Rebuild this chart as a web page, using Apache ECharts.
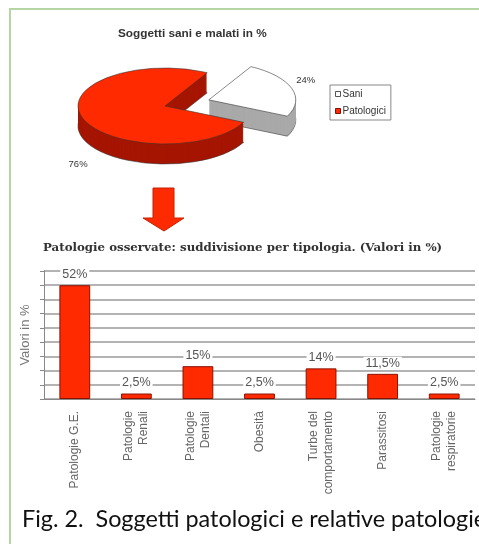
<!DOCTYPE html>
<html>
<head>
<meta charset="utf-8">
<script src="https://cdn.jsdelivr.net/npm/echarts@6/dist/echarts.min.js"></script>
<style>
  html, body { margin: 0; padding: 0; background: #fff; }
  #chart { width: 479px; height: 544px; }
</style>
</head>
<body>
<div id="chart"></div>
<script>
// dati torta
var pieNames = ['Sani', 'Patologici'];
var pieValues = [24, 76];
// dati barre
var categories = ['Patologie G.E.', 'Patologie\nRenali', 'Patologie\nDentali', 'Obesità',
  'Turbe del\ncomportamento', 'Parassitosi', 'Patologie\nrespiratorie'];
var barValues = [52, 2.5, 15, 2.5, 14, 11.5, 2.5];

// stile torta 3d
var pieTop = ['#ffffff', '#ff2a00'];
var pieSide = ['#a9a9a9', '#a51500'];
var pieExplode = [46, 0];
var pieLabelShift = [[0, -6], [10, 45]];
var pieC = [165, 106], pieRx = 87, pieRy = 38, pieDepth = 20, pieStart = -61;

function sliceRenderer(idx) {
  return function (params, api) {
    var total = pieValues.reduce(function (a, b) { return a + b; }, 0);
    var start = pieStart * Math.PI / 180;
    for (var i = 0; i < idx; i++) start += pieValues[i] / total * Math.PI * 2;
    var span = pieValues[idx] / total * Math.PI * 2;
    var mid = start + span / 2;
    var k = pieRy / pieRx;
    var cx = pieC[0] + pieExplode[idx] * Math.cos(mid);
    var cy = pieC[1] + pieExplode[idx] * Math.sin(mid) * k;
    var faces = [];
    // lato (copie sovrapposte per lo spessore)
    for (var d = pieDepth; d > 0; d--) {
      faces.push({
        type: 'sector',
        shape: { cx: 0, cy: d / k, r: pieRx, startAngle: start, endAngle: start + span, clockwise: true },
        style: { fill: pieSide[idx], stroke: d === pieDepth ? '#333' : null, lineWidth: 0.8, strokeNoScale: true }
      });
    }
    faces.push({
      type: 'sector',
      shape: { cx: 0, cy: 0, r: pieRx, startAngle: start, endAngle: start + span, clockwise: true },
      style: { fill: pieTop[idx], stroke: '#333', lineWidth: 0.8, strokeNoScale: true }
    });
    var lx = cx + pieRx * 1.17 * Math.cos(mid) + pieLabelShift[idx][0];
    var ly = cy + pieRy * 1.17 * Math.sin(mid) + pieLabelShift[idx][1];
    return {
      type: 'group',
      children: [
        { type: 'group', x: cx, y: cy, scaleY: k, children: faces },
        {
          type: 'text', x: lx, y: ly,
          style: {
            text: pieValues[idx] + '%', fill: '#333', fontSize: 9.5,
            fontFamily: 'Liberation Sans', align: 'center', verticalAlign: 'middle'
          }
        }
      ]
    };
  };
}

var chart = echarts.init(document.getElementById('chart'));

var series = pieNames.map(function (n, i) {
  return {
    type: 'custom',
    name: n,
    coordinateSystem: 'none',
    renderItem: sliceRenderer(i),
    data: [pieValues[i]],
    itemStyle: { color: pieTop[i] },
    silent: true
  };
});

series.push({
  type: 'bar',
  name: 'Patologie',
  data: barValues,
  barWidth: '50%',
  itemStyle: { color: '#ff2a00', borderColor: '#8a1000', borderWidth: 1 },
  label: {
    show: true,
    position: 'top',
    distance: 4,
    formatter: function (p) { return String(p.value).replace('.', ',') + '%'; },
    color: '#555',
    fontSize: 12.5,
    fontFamily: 'Liberation Sans',
    backgroundColor: '#fff',
    padding: [0, 2]
  }
});

chart.setOption({
  animation: false,
  backgroundColor: '#ffffff',
  title: [
    {
      text: 'Soggetti sani e malati in %',
      left: 118, top: 28, padding: 0,
      textStyle: { fontSize: 11.8, fontWeight: 'bold', color: '#333', fontFamily: 'Liberation Sans' }
    },
    {
      text: 'Patologie osservate: suddivisione per tipologia. (Valori in %)',
      left: 43, top: 242, padding: 0,
      textStyle: { fontSize: 11.8, fontWeight: 'bold', color: '#333', fontFamily: 'DejaVu Serif' }
    },
    {
      text: 'Fig. 2.  Soggetti patologici e relative patologie',
      left: 22, top: 508, padding: 0,
      textStyle: { fontSize: 23.4, fontWeight: 'normal', color: '#111', fontFamily: 'Lato' }
    }
  ],
  legend: {
    data: [
      { name: 'Sani', itemStyle: { color: '#fff', borderColor: '#555', borderWidth: 1 } },
      { name: 'Patologici', itemStyle: { color: '#ff2a00', borderColor: '#8a1000', borderWidth: 1 } }
    ],
    orient: 'vertical',
    left: 330, top: 85,
    padding: [4, 5],
    itemGap: 7,
    itemWidth: 5, itemHeight: 5,
    icon: 'rect',
    borderColor: '#888', borderWidth: 1,
    selectedMode: false,
    textStyle: { fontSize: 10, color: '#333', fontFamily: 'Liberation Sans', padding: [0, 0, 0, -3] }
  },
  graphic: [
    {
      type: 'polyline', silent: true,
      shape: { points: [[10, 544], [10, 9], [479, 9]] },
      style: { stroke: '#b5d5a3', lineWidth: 2, fill: null }
    },
    {
      type: 'polygon', silent: true,
      shape: { points: [[153, 188], [174, 188], [174, 218], [184, 218], [164, 231], [143, 218], [153, 218]] },
      style: { fill: '#ff2a00', stroke: '#c42000', lineWidth: 1 }
    }
  ],
  grid: { left: 44, right: 4, top: 271, bottom: 145 },
  xAxis: {
    type: 'category',
    data: categories,
    axisLine: { lineStyle: { color: '#888' } },
    axisTick: { length: 4, lineStyle: { color: '#888' } },
    axisLabel: {
      rotate: 90, margin: 12, interval: 0,
      color: '#666', fontSize: 12, fontFamily: 'Liberation Sans', lineHeight: 15
    }
  },
  yAxis: {
    type: 'value',
    min: 0, max: 58.5, interval: 6.5,
    name: 'Valori in %',
    nameLocation: 'middle',
    nameGap: 12,
    nameTextStyle: { color: '#777', fontSize: 13, fontFamily: 'Liberation Sans' },
    axisLine: { show: true, lineStyle: { color: '#888' } },
    axisTick: { show: true, length: 4, lineStyle: { color: '#888' } },
    axisLabel: { show: false },
    splitLine: { lineStyle: { color: '#9a9a9a', width: 1.5 } }
  },
  series: series
});
</script>
</body>
</html>
